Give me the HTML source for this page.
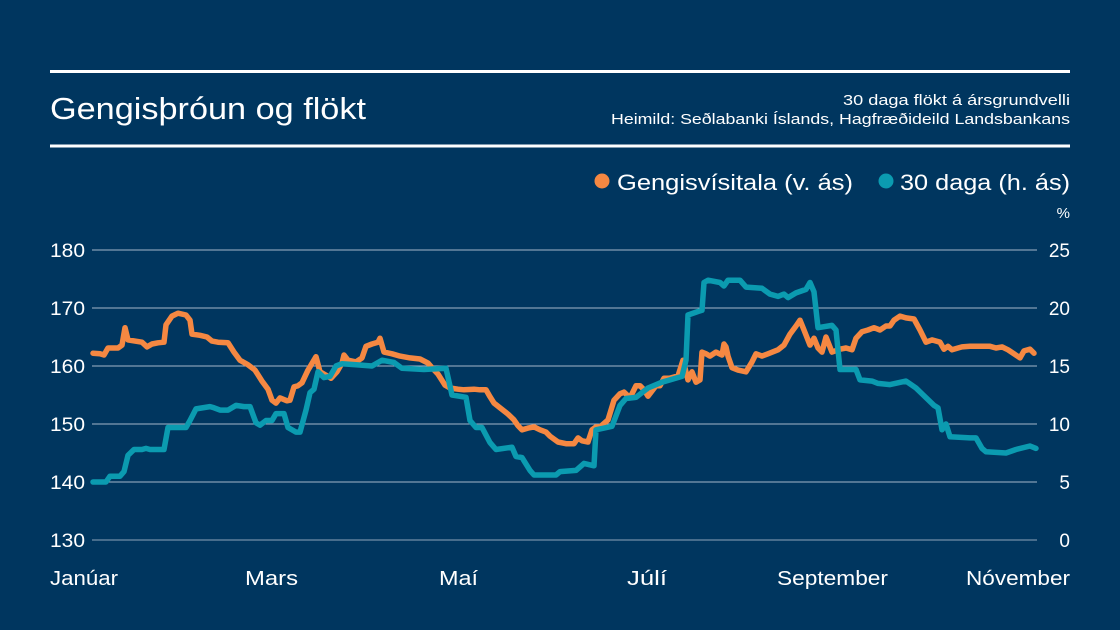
<!DOCTYPE html>
<html><head><meta charset="utf-8"><style>
html,body{margin:0;padding:0;background:#00365f;}
svg{display:block;font-family:"Liberation Sans",sans-serif;}
</style></head><body>
<svg id="chart" width="1120" height="630" viewBox="0 0 1120 630">
<rect x="0" y="0" width="1120" height="630" fill="#00365f"/>
<line x1="50" y1="71.5" x2="1070" y2="71.5" stroke="#fff" stroke-width="3"/>
<line x1="50" y1="146" x2="1070" y2="146" stroke="#fff" stroke-width="3"/>
<text x="50" y="119" fill="#fff" font-size="31" textLength="316" lengthAdjust="spacingAndGlyphs">Gengisþróun og flökt</text>
<text x="843" y="105" fill="#fff" font-size="15" textLength="227" lengthAdjust="spacingAndGlyphs">30 daga flökt á ársgrundvelli</text>
<text x="611" y="124" fill="#fff" font-size="15" textLength="459" lengthAdjust="spacingAndGlyphs">Heimild: Seðlabanki Íslands, Hagfræðideild Landsbankans</text>
<g>
<circle cx="602" cy="181" r="7.5" fill="#f58842"/>
<text x="617" y="190" fill="#fff" font-size="22" textLength="236" lengthAdjust="spacingAndGlyphs">Gengisvísitala (v. ás)</text>
<circle cx="886" cy="181" r="7.5" fill="#0b9bb0"/>
<text x="900" y="190" fill="#fff" font-size="22" textLength="170" lengthAdjust="spacingAndGlyphs">30 daga (h. ás)</text>
</g>
<text x="1070" y="218" fill="#fff" font-size="15" text-anchor="end">%</text>
<g id="grid"></g>
<g id="yl"></g>
<g id="yr"></g>
<g id="xl"></g>
<g id="series"></g>
</svg>
<script>
const leftTicks=[130,140,150,160,170,180];
const rightTicks=[0,5,10,15,20,25];
const monthLabels=["Janúar","Mars","Maí","Júlí","September","Nóvember"];
const indexDays=[0,3.5,5.5,7.5,12.5,14.5,16,17.5,21,24.5,27,29.5,32.5,35.5,36.5,39.5,42.5,46.5,48.5,49.5,53.5,57,59.5,62.5,67.5,70.5,73.5,77.5,81,84.5,87.5,89.5,91.5,93.5,97,98.5,100.5,102.5,104.5,107.5,111.5,113.5,116.5,119,122,124.5,125.5,127.5,131.5,134.5,136.5,139.5,142.5,143.5,145.5,149.5,153.5,158.5,163.5,167.5,169.5,172.5,176,178.5,182.5,185.5,190.5,193.5,196.5,198.5,200.5,203.5,207.5,210.5,212.5,214.5,217.5,220.5,223.5,226.5,228.5,232.5,236.5,240.5,242.5,244.5,247.5,249.5,251.5,253.5,257.5,260.5,263.5,265.5,268.5,271.5,273.5,275.5,277.5,281.5,283.5,285.5,288.5,292.5,295,297.5,299.5,301.5,303.5,304.5,306.5,308.5,311.5,314.5,315.5,316.5,317.5,319.5,322.5,326.5,329.5,331.5,334.5,337.5,342.5,345.5,348.5,351.5,353.5,355.5,358.5,360.5,362.5,364.5,366.5,369.5,373.5,376.5,379.5,381.5,384.5,387.5,390.5,393.5,396.5,398.5,400.5,403.5,406.5,410.5,413.5,416.5,419.5,423.5,425.5,427.5,429.5,432.5,434.5,438.5,443.5,448.5,451.5,454.5,457.5,460.5,463.5,465.5,468.5,470.5];
const indexVals=[162.2,162.1,161.9,163.1,163.1,163.6,166.6,164.5,164.3,164.1,163.3,163.8,164.0,164.1,167.1,168.6,169.1,168.8,167.9,165.5,165.3,165.0,164.3,164.1,164.0,162.4,161.0,160.2,159.3,157.4,156.0,154.1,153.6,154.5,154.0,154.1,156.4,156.6,157.1,159.3,161.6,159.0,158.4,157.9,159.0,160.5,161.9,161.0,160.7,161.4,163.4,163.8,164.1,164.8,162.4,162.1,161.7,161.4,161.2,160.5,159.7,158.6,156.7,156.2,156.0,155.9,156.0,155.9,155.9,154.7,153.6,152.8,151.7,150.7,149.7,149.0,149.3,149.5,149.0,148.6,147.9,146.9,146.6,146.6,147.6,147.1,146.9,149.0,149.5,149.5,150.7,154.1,155.2,155.5,154.5,156.6,156.6,155.9,154.8,156.6,156.6,157.9,157.9,158.3,161.0,157.6,159.0,157.2,157.6,162.4,162.1,161.7,162.4,161.9,163.8,163.3,161.7,159.7,159.3,159.0,160.7,162.1,161.7,162.1,162.8,163.6,165.5,166.9,167.9,166.2,163.6,164.8,163.1,162.4,165.0,162.4,162.9,163.1,162.8,164.8,165.9,166.2,166.6,166.2,166.9,166.9,167.9,168.6,168.3,168.1,166.2,164.1,164.5,164.1,162.9,163.4,162.8,163.1,163.3,163.4,163.4,163.4,163.1,163.3,162.8,162.1,161.4,162.6,162.9,162.2];
const volDays=[0,6.5,8.5,13.5,15.5,17.5,20.5,24.5,26.5,28.5,35.5,37.5,40.5,46.5,48.5,51.5,58.5,60.5,63.5,67.5,71.5,75.5,78.5,81.5,83.5,86.5,89.5,91.5,95.5,97.5,101.5,103.5,106.5,108.5,110.5,112.5,115.5,118.5,121.5,124.5,131.5,139.5,144.5,150.5,154.5,165.5,176.5,179.5,186.5,188.5,191.5,194.5,198.5,201.5,209.5,211.5,214.5,218.5,220.5,231.5,233.5,241.5,245.5,250.5,251.5,259.5,263.5,266.5,271.5,277.5,284.5,294.5,296.5,297.5,302.5,304.5,305.5,307.5,313.5,315.5,317.5,323.5,326.5,334.5,338.5,342.5,345.5,347.5,351.5,356.5,358.5,360.5,362.5,369.5,371.5,373.5,381.5,383.5,389.5,392.5,398.5,406.5,411.5,414.5,420.5,422.5,424.5,426.5,428.5,438.5,441.5,444.5,446.5,456.5,461.5,468.5,471.5];
const volVals=[5.0,5.0,5.5,5.5,5.9,7.3,7.8,7.8,7.9,7.8,7.8,9.7,9.7,9.7,10.3,11.3,11.5,11.4,11.2,11.2,11.6,11.5,11.5,10.1,9.9,10.3,10.3,10.9,10.9,9.7,9.3,9.3,11.2,12.7,13.0,14.5,14.0,14.1,15.0,15.2,15.1,15.0,15.5,15.3,14.8,14.7,14.8,12.5,12.3,10.3,9.7,9.7,8.4,7.8,8.0,7.2,7.1,6.0,5.6,5.6,5.9,6.0,6.6,6.4,9.5,9.8,11.6,12.2,12.3,13.1,13.6,14.1,15.5,19.4,19.7,19.8,22.2,22.4,22.2,21.9,22.4,22.4,21.8,21.7,21.2,21.0,21.2,20.9,21.3,21.6,22.2,21.4,18.3,18.5,18.1,14.7,14.7,13.8,13.7,13.5,13.4,13.7,13.1,12.6,11.6,11.4,9.5,10.0,8.9,8.8,8.8,7.9,7.6,7.5,7.8,8.1,7.9];

const NS="http://www.w3.org/2000/svg";
const X0=93,X1=1037,DMAX=472;
const xs=d=>X0+d/DMAX*(X1-X0);
const yL=v=>540-(v-130)/50*290;
const yR=v=>540-v/25*290;
function mk(tag,attrs,parent){const e=document.createElementNS(NS,tag);for(const k in attrs)e.setAttribute(k,attrs[k]);parent.appendChild(e);return e;}
const grid=document.getElementById('grid'),yl=document.getElementById('yl'),yr=document.getElementById('yr'),xl=document.getElementById('xl'),ser=document.getElementById('series');
leftTicks.forEach((t,i)=>{
  const y=yL(t);
  const g=mk('line',{x1:92,x2:1037,y1:y,y2:y,stroke:i===0?'#8ea4ba':'#a3b6c8','stroke-width':1},grid);
  
  
  const tx=mk('text',{x:50,y:y+7,fill:'#fff','font-size':19,textLength:35,lengthAdjust:'spacingAndGlyphs'},yl);tx.textContent=t;
  
  
});
rightTicks.forEach(t=>{
  const y=yR(t);
  const tx=mk('text',{x:1070,y:y+7,fill:'#fff','font-size':19,'text-anchor':'end'},yr);tx.textContent=t;
  
  
});
const labelStart=[50,245,439,627,777,966];
const labelLen=[68,53,39,40,111,104];
monthLabels.forEach((m,i)=>{
  const tx=mk('text',{x:labelStart[i],y:585,fill:'#fff','font-size':20,textLength:labelLen[i],lengthAdjust:'spacingAndGlyphs'},xl);tx.textContent=m;
  
  
});
function path(days,vals,yf,color,name){
  const d=days.map((v,i)=>(i?'L':'M')+xs(v).toFixed(1)+' '+yf(vals[i]).toFixed(1)).join(' ');
  const p=mk('path',{d:d,fill:'none',stroke:color,'stroke-width':5.5,'stroke-linejoin':'round','stroke-linecap':'round'},ser);
  
  
}
path(indexDays,indexVals,yL,'#f58842','exchange-index-line');
path(volDays,volVals,yR,'#0b9bb0','volatility-line');
</script>
</body></html>
